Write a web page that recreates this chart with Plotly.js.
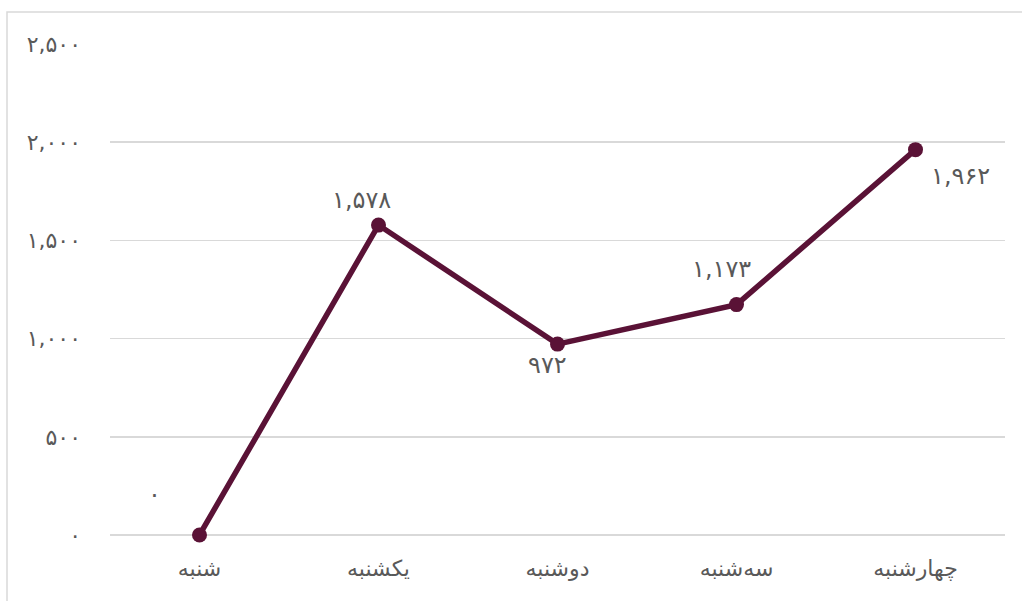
<!DOCTYPE html>
<html>
<head>
<meta charset="utf-8">
<script src="https://cdn.plot.ly/plotly-3.0.1.min.js"></script>
<style>
html,body{margin:0;padding:0;background:#fff;}
#chart{width:1022px;height:601px;}
</style>
</head>
<body>
<div id="chart"></div>
<script>
// Data
const categories = ["شنبه", "یکشنبه", "دوشنبه", "سه‌شنبه", "چهارشنبه"];
const values = [0, 1578, 972, 1173, 1962];
const yTickValues = [0, 500, 1000, 1500, 2000, 2500];

// Label offsets (style/position, not data)
const labelDx = [-45, -17, -10, -15, 45];
const labelDy = [41, 25, -21, 36, -26];

const faDigits = "۰۱۲۳۴۵۶۷۸۹";
function toFa(n) {
  const s = n.toString().replace(/\B(?=(\d{3})+(?!\d))/g, ",");
  return s.replace(/\d/g, d => faDigits[+d]);
}

const lineColor = "#5a1236";
const textColor = "#595959";
const fontFamily = "DejaVu Sans, Noto Sans, sans-serif";

const xIdx = categories.map((c, i) => i);

const trace = {
  x: xIdx,
  y: values,
  type: "scatter",
  mode: "lines+markers",
  line: {color: lineColor, width: 5.5},
  marker: {color: lineColor, size: 15},
  cliponaxis: false,
  hoverinfo: "skip"
};

const annotations = values.map((v, i) => ({
  x: i, y: v, xref: "x", yref: "y",
  text: toFa(v),
  showarrow: false,
  xshift: labelDx[i], yshift: labelDy[i],
  font: {family: fontFamily, size: 24, color: textColor}
}));

const layout = {
  width: 1022, height: 601,
  margin: {l: 110, r: 17, t: 44, b: 66},
  paper_bgcolor: "#fff", plot_bgcolor: "#fff",
  showlegend: false,
  xaxis: {
    range: [-0.5, 4.5],
    tickvals: xIdx,
    ticktext: categories,
    showgrid: false, zeroline: false, showline: false,
    ticks: "",
    ticklabelstandoff: 18,
    tickfont: {family: fontFamily, size: 22, color: textColor}
  },
  yaxis: {
    range: [0, 2500],
    tickvals: yTickValues,
    ticktext: yTickValues.map(toFa),
    showgrid: true, gridcolor: "#d9d9d9", gridwidth: 1.5,
    zeroline: true, zerolinecolor: "#d9d9d9", zerolinewidth: 1.5,
    showline: false,
    ticks: "",
    ticklabelstandoff: 28,
    tickfont: {family: fontFamily, size: 22, color: textColor}
  },
  shapes: [{
    type: "rect", xref: "paper", yref: "paper",
    x0: (7 - 110) / 895, x1: 1.05,
    y0: -0.3, y1: (535 - 12) / 491,
    line: {color: "#d9d9d9", width: 1.5},
    fillcolor: "rgba(0,0,0,0)", layer: "below"
  }],
  annotations: annotations
};

Plotly.newPlot("chart", [trace], layout, {displayModeBar: false, staticPlot: true});
</script>
</body>
</html>
